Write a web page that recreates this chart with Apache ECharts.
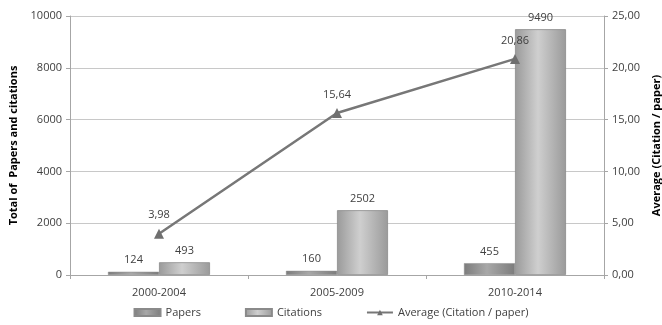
<!DOCTYPE html>
<html>
<head>
<meta charset="utf-8">
<script src="https://cdn.jsdelivr.net/npm/echarts@6/dist/echarts.min.js"></script>
<style>
  html, body { margin: 0; padding: 0; background: #fff; }
  #chart { width: 662px; height: 325px; }
</style>
</head>
<body>
<div id="chart"></div>
<script>
// Publication periods and their totals
const periods = ['2000-2004', '2005-2009', '2010-2014'];
const papers = [124, 160, 455];
const citations = [493, 2502, 9490];
const average = [3.98, 15.64, 20.86];

const FONT = '"Open Sans", "Noto Sans", sans-serif';
const TEXT = '#404040';

const fmtComma = (v) => Number(v).toFixed(2).replace('.', ',');

function barGradient(edge, mid) {
  return new echarts.graphic.LinearGradient(0, 0, 1, 0, [
    { offset: 0, color: edge },
    { offset: 0.45, color: mid },
    { offset: 1, color: edge }
  ]);
}

const chart = echarts.init(document.getElementById('chart'), null, { renderer: 'canvas' });

chart.setOption({
  animation: false,
  backgroundColor: '#ffffff',
  textStyle: { fontFamily: FONT, color: TEXT },
  grid: { left: 70, right: 58, top: 16, bottom: 50, outerBoundsMode: 'none', containLabel: false },
  legend: {
    bottom: 2,
    left: 'center',
    itemGap: 44,
    itemWidth: 26,
    itemHeight: 7,
    textStyle: { fontFamily: FONT, fontSize: 11, color: TEXT },
    data: [
      { name: 'Papers', icon: 'rect' },
      { name: 'Citations', icon: 'rect' },
      { name: 'Average (Citation / paper)' }
    ]
  },
  xAxis: {
    type: 'category',
    data: periods,
    axisLine: { lineStyle: { color: '#a6a6a6' } },
    axisTick: { show: true, length: 4, lineStyle: { color: '#a6a6a6' } },
    axisLabel: { fontFamily: FONT, fontSize: 11, color: TEXT, margin: 12 }
  },
  yAxis: [
    {
      type: 'value',
      min: 0, max: 10000, interval: 2000,
      name: 'Total of  Papers and citations',
      nameLocation: 'middle',
      nameGap: 40,
      nameTextStyle: { fontFamily: FONT, fontSize: 11, fontWeight: 'bold', color: '#000' },
      axisLine: { show: true, lineStyle: { color: '#a6a6a6' } },
      axisTick: { show: true, length: 4, lineStyle: { color: '#a6a6a6' } },
      axisLabel: { fontFamily: FONT, fontSize: 11, color: TEXT, margin: 8, formatter: (v) => String(v) },
      splitLine: { lineStyle: { color: '#c8c8c8' } }
    },
    {
      type: 'value',
      min: 0, max: 25, interval: 5,
      name: 'Average (Citation / paper)',
      nameLocation: 'middle',
      nameGap: 44,
      nameRotate: 90,
      nameTextStyle: { fontFamily: FONT, fontSize: 11, fontWeight: 'bold', color: '#000' },
      axisLine: { show: true, lineStyle: { color: '#a6a6a6' } },
      axisTick: { show: true, length: 4, lineStyle: { color: '#a6a6a6' } },
      axisLabel: { fontFamily: FONT, fontSize: 11, color: TEXT, margin: 8, formatter: fmtComma },
      splitLine: { show: false }
    }
  ],
  series: [
    {
      name: 'Papers',
      type: 'bar',
      data: papers,
      barWidth: 51,
      barGap: '0%',
      itemStyle: { color: barGradient('#7c7c7c', '#a8a8a8'), borderColor: '#8a8a8a', borderWidth: 0.5 },
      label: { show: true, position: 'top', distance: 6, fontFamily: FONT, fontSize: 11, color: TEXT }
    },
    {
      name: 'Citations',
      type: 'bar',
      data: citations,
      barWidth: 51,
      itemStyle: { color: barGradient('#9a9a9a', '#cfcfcf'), borderColor: '#8a8a8a', borderWidth: 0.8 },
      label: { show: true, position: 'top', distance: 6, fontFamily: FONT, fontSize: 11, color: TEXT }
    },
    {
      name: 'Average (Citation / paper)',
      type: 'line',
      yAxisIndex: 1,
      data: average,
      symbol: 'triangle',
      symbolSize: 10,
      lineStyle: { color: '#777777', width: 2.5 },
      itemStyle: { color: '#6f6f6f' },
      label: {
        show: true, position: 'top', distance: 8,
        fontFamily: FONT, fontSize: 11, color: TEXT,
        formatter: (p) => fmtComma(p.value)
      },
      z: 5
    }
  ]
});
</script>
</body>
</html>
